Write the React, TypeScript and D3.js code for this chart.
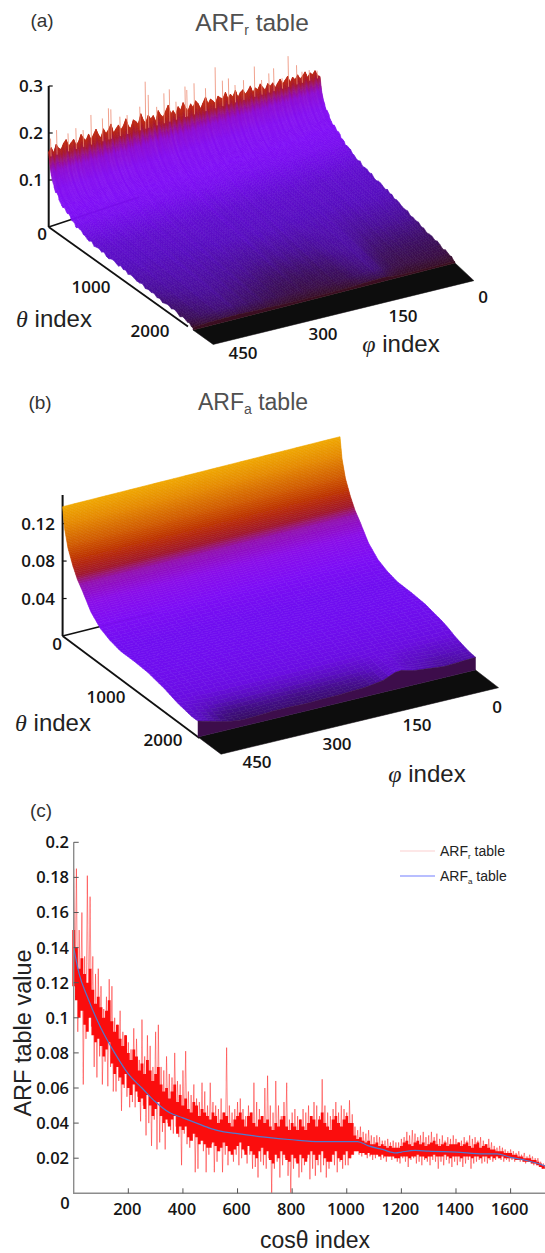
import React from "react";
import * as d3 from "d3";

// ---------- panel (c) data (values x 1000) ----------
const cXTicks = [200, 400, 600, 800, 1000, 1200, 1400, 1600];
const cYTicks = [0.02, 0.04, 0.06, 0.08, 0.1, 0.12, 0.14, 0.16, 0.18, 0.2];
const arfAIdx = [0, 20, 50, 100, 150, 200, 250, 300, 350, 400, 450, 500, 550, 600, 700, 800, 900, 1000, 1040, 1080, 1130, 1180, 1200, 1250, 1300, 1400, 1500, 1550, 1600, 1650, 1700, 1727];
const arfAVal = [140, 125, 112, 94, 80, 68, 60, 52, 46, 43, 40, 37, 35, 34, 32, 30.5, 29.5, 29.5, 29.5, 27, 25, 23, 23.5, 24.5, 24, 23.5, 22.5, 22.5, 20.5, 19, 17, 15.5];
const rHigh = [
  185, 185, 150, 160, 135, 181, 169, 135, 125, 128,
  118, 105, 112, 122, 118, 100, 96, 104, 92, 90,
  86, 82, 94, 88, 76, 99, 78, 90, 84, 72,
  92, 96, 72, 70, 78, 68, 66, 80, 64, 62,
  70, 81, 58, 56, 62, 54, 52, 63, 58, 50,
  63, 52, 50, 48, 54, 46, 83, 50, 46, 48,
  52, 54, 48, 44, 50, 46, 63, 52, 48, 44,
  60, 67, 50, 46, 64, 50, 44, 52, 63, 42,
  46, 48, 44, 42, 48, 46, 50, 44, 52, 50,
  44, 65, 50, 46, 44, 48, 52, 46, 50, 48,
  46, 53, 45, 38, 36, 38, 35, 34, 36, 33,
  32, 33, 32, 30, 30, 31, 29, 30, 29, 29,
  31, 32, 35, 33, 36, 34, 32, 33, 35, 32,
  33, 35, 32, 34, 31, 33, 30, 32, 31, 33,
  31, 29, 30, 32, 30, 33, 31, 32, 30, 32,
  30, 28, 31, 29, 27, 26, 27, 26, 25, 24,
  25, 24, 23, 24, 22, 23, 21, 22, 21, 20, 20, 18, 17,
];
const rLow = [
  120, 92, 105, 62, 88, 100, 95, 72, 66, 78,
  62, 75, 61, 72, 58, 58, 64, 47, 60, 55,
  49, 52, 49, 55, 41, 50, 33, 40, 27, 42,
  25, 29, 35, 25, 40, 36, 34, 38, 32, 16,
  34, 28, 26, 30, 12, 14, 32, 24, 12, 22,
  28, 12, 18, 24, 12, 22, 16, 24, 18, 22,
  16, 20, 24, 17, 22, 14, 15, 9, 18, 16,
  14, 20, 0, 14, 18, 9, 16, 20, 10, 0,
  14, 18, 9, 12, 16, 20, 8, 14, 10, 16,
  12, 16, 9, 14, 18, 16, 12, 18, 14, 16,
  16, 20, 22, 24, 22, 21, 23, 20, 21, 19,
  20, 22, 19, 20, 18, 21, 19, 20, 18, 17,
  20, 18, 15, 19, 20, 17, 18, 16, 19, 18,
  16, 19, 18, 14, 18, 16, 19, 17, 15, 18,
  16, 18, 15, 17, 19, 14, 17, 18, 19, 17,
  18, 17, 19, 18, 19, 20, 19, 18, 19, 18,
  19, 18, 19, 18, 18, 17, 18, 17, 16, 16, 15, 14, 14,
];
const coreHigh = [
  150, 140, 128, 134, 125, 120, 128, 116, 108, 112,
  106, 100, 104, 110, 98, 92, 96, 88, 84, 90,
  80, 76, 82, 78, 70, 74, 68, 76, 70, 64,
  68, 72, 62, 58, 60, 54, 58, 62, 52, 56,
  50, 54, 48, 46, 52, 50, 44, 48, 46, 44,
  42, 46, 44, 40, 42, 46, 44, 40, 38, 42,
  44, 46, 42, 38, 44, 46, 40, 38, 42, 44,
  40, 42, 38, 36, 40, 38, 42, 44, 38, 36,
  40, 38, 36, 42, 38, 36, 40, 44, 42, 38,
  42, 46, 40, 38, 36, 42, 44, 40, 38, 42,
  44, 40, 40, 33, 31, 32, 30, 29, 30, 28,
  28, 29, 27, 28, 27, 26, 27, 26, 26, 26,
  27, 29, 30, 28, 27, 29, 30, 28, 29, 27,
  28, 29, 30, 28, 27, 28, 29, 27, 28, 28,
  28, 29, 27, 28, 29, 27, 26, 28, 29, 26,
  27, 28, 26, 25, 25, 24, 24, 24, 23, 23,
  23, 22, 22, 21, 21, 20, 20, 20, 19, 19, 18, 17, 16,
];
const coreLow = [
  118, 110, 100, 104, 96, 92, 100, 90, 86, 88,
  84, 78, 82, 86, 74, 68, 72, 66, 62, 68,
  60, 56, 62, 58, 52, 54, 48, 56, 50, 44,
  48, 52, 44, 40, 42, 38, 42, 44, 34, 38,
  36, 38, 32, 30, 34, 32, 28, 30, 28, 26,
  26, 29, 27, 24, 26, 29, 27, 24, 22, 25,
  27, 29, 25, 22, 27, 24, 22, 20, 24, 26,
  22, 24, 19, 17, 22, 20, 24, 22, 19, 18,
  22, 20, 17, 22, 20, 18, 22, 24, 22, 19,
  22, 24, 20, 18, 18, 22, 24, 20, 19, 22,
  24, 20, 22, 24, 24, 23, 23, 22, 23, 22,
  22, 22, 21, 22, 21, 21, 21, 21, 20, 20,
  21, 21, 21, 20, 21, 21, 22, 21, 21, 20,
  21, 21, 22, 21, 21, 21, 22, 21, 20, 21,
  21, 21, 20, 21, 21, 21, 20, 21, 21, 20,
  21, 21, 20, 21, 20, 21, 20, 21, 20, 20,
  20, 20, 19, 19, 19, 18, 18, 18, 17, 17, 16, 15, 14,
];

// ---------- panel (a) data ----------
const aZTicks = [0.1, 0.2, 0.3];
const thetaTicks = [1000, 2000];
const phiTicks = [0, 150, 300, 450];
const aProfT = [0, 0.006, 0.012, 0.025, 0.05, 0.08, 0.13, 0.2, 0.28, 0.35, 0.45, 0.55, 0.65, 0.75, 0.85, 0.95, 1];
const aProfZ = [0.168, 0.15, 0.132, 0.11, 0.09, 0.075, 0.06, 0.044, 0.035, 0.03, 0.027, 0.024, 0.021, 0.018, 0.015, 0.012, 0.007];
const aEdge = [
  160, 168, 155, 172, 162, 158, 170, 176, 160, 166,
  172, 158, 164, 178, 168, 162, 174, 160, 170, 180,
  166, 158, 176, 164, 171, 182, 160, 168, 175, 163,
  170, 184, 166, 160, 177, 172, 164, 186, 170, 162,
  178, 168, 174, 158, 182, 170, 164, 176, 188, 166,
  172, 160, 178, 168, 184, 170, 162, 176, 166, 180,
  172, 158, 170, 182, 164, 174, 168, 160, 176, 170,
  166, 180, 162, 172, 164, 178, 158, 170, 174, 162,
  168, 178, 160, 170, 164, 176, 166, 158, 172, 164,
  170, 156, 166, 174, 160, 168, 176, 158, 170, 162,
  172, 160, 166, 174, 158, 168, 162, 170, 156, 152,
];
const aSpikePhi = [447, 437, 418, 405, 393, 380, 361, 351, 347, 332, 320, 299, 290, 285, 271, 259, 250, 239, 224, 221, 209, 190, 174, 162, 152, 141, 127, 109, 97, 85, 77, 63, 53, 39, 30, 18, 5];
const aSpikeZ = [0.187, 0.2015, 0.1875, 0.194, 0.1855, 0.2135, 0.199, 0.2175, 0.2137, 0.192, 0.191, 0.2018, 0.2546, 0.223, 0.1907, 0.2168, 0.2225, 0.19, 0.219, 0.21, 0.2208, 0.202, 0.2447, 0.2087, 0.21, 0.19, 0.196, 0.2213, 0.184, 0.195, 0.204, 0.174, 0.224, 0.196, 0.176, 0.175, 0.168];
const aFrontMod = [0.9, 1.05, 1.2, 1.25, 1.1, 1.0, 0.85, 0.75, 0.7, 0.7, 0.75, 0.85, 1.1, 1.3, 0.8, 0.7, 0.7, 0.7, 0.7];
const aSideJitter = [1, -2, 3, -1, -3, 2, 0, 3, -2, 1, -3, 2, 3, -1, 0, -2, 3, 1, -3, 0, 2, -1, 3, -2, -3, 1, 2, 0, -2, 3, -1, 2, -3, 1, 0, 3, -2, -1, 2, -3, 3, 0, -1, 2, -2, 1, 3, -3, 0, 2, -1, -2, 3, 1, -3, 2, 0, -1, 2, -2];
const aColorZ = [0, 0.006, 0.012, 0.018, 0.025, 0.035, 0.045, 0.06, 0.09, 0.12, 0.135, 0.15, 0.165, 0.2];
const aColors = ["#3a1018", "#381030", "#3c1060", "#4a0f98", "#5810c0", "#6a10dc", "#7810ee", "#8010f6", "#8510f0", "#8f10d0", "#9a1488", "#a81c30", "#bc2a14", "#cc3820"];

// ---------- panel (b) data ----------
const bZTicks = [0.04, 0.08, 0.12];
const bProfT = [0, 0.015, 0.04, 0.076, 0.11, 0.15, 0.21, 0.28, 0.35, 0.43, 0.53, 0.63, 0.75, 0.85, 0.95, 1];
const bProfZ = [0.138, 0.116, 0.098, 0.083, 0.072, 0.063, 0.048, 0.038, 0.033, 0.03, 0.03, 0.029, 0.025, 0.02, 0.017, 0.017];
const bFrontMod = [1.0, 0.75, 0.5, 0.4, 0.45, 0.5, 0.5, 0.45, 0.5, 0.5, 0.55, 0.6, 0.75, 1.15, 0.9, 0.8, 0.7, 0.75, 0.8];
const bColorZ = [0, 0.005, 0.01, 0.015, 0.02, 0.03, 0.04, 0.055, 0.068, 0.075, 0.085, 0.1, 0.12, 0.138];
const bColors = ["#280a40", "#300a50", "#400c80", "#5a0cc0", "#6a10e0", "#7010f0", "#7e10f5", "#8a10e8", "#9212b0", "#a01830", "#b82a08", "#d05a05", "#e58a00", "#f0a800"];

const FONT = "'Liberation Sans', Arial, sans-serif";
const TICKFONT = "'Open Sans', 'Liberation Sans', sans-serif";

type SurfaceCfg = {
  BL: number[]; BR: number[]; FL: number[]; FR: number[];
  zpx: [number, number];
  profT: number[]; profZ: number[];
  colorZ: number[]; colors: string[];
  frontMod: number[]; weightFrom: number;
  edge?: number[]; jitter?: number[]; cols: number; wallFill: string;
  floorT: [number, number];
};

const line = d3.line();

function makeProjector(c: SurfaceCfg) {
  const backX = d3.scaleLinear().domain([450, 0]).range([c.BL[0], c.BR[0]]);
  const backY = d3.scaleLinear().domain([450, 0]).range([c.BL[1], c.BR[1]]);
  const frontX = d3.scaleLinear().domain([450, 0]).range([c.FL[0], c.FR[0]]);
  const frontY = d3.scaleLinear().domain([450, 0]).range([c.FL[1], c.FR[1]]);
  const zp = d3.scaleLinear().domain([450, 0]).range(c.zpx);
  return (t: number, phi: number, z: number): [number, number] => {
    const bx = backX(phi), by = backY(phi);
    return [bx + (frontX(phi) - bx) * t, by + (frontY(phi) - by) * t - zp(phi) * z];
  };
}

function Surface({ c }: { c: SurfaceCfg }) {
  const project = makeProjector(c);
  const prof = d3.scaleLinear().domain(c.profT).range(c.profZ);
  const color = d3.scaleLinear<string>().domain(c.colorZ).range(c.colors).clamp(true);
  const modPhi = d3.scaleLinear().domain(d3.range(c.frontMod.length).map((i) => 450 - i * 25)).range(c.frontMod);
  const weight = d3.scaleLinear().domain([c.weightFrom, 1]).range([0, 1]).clamp(true);
  const rows: number[] = [];
  c.profT.slice(0, -1).forEach((t0, i) => {
    const t1 = c.profT[i + 1];
    const n = Math.max(1, Math.ceil(Math.abs(c.profZ[i + 1] - c.profZ[i]) / 0.0015), Math.ceil((t1 - t0) / 0.02));
    d3.range(n).forEach((k) => rows.push(t0 + ((t1 - t0) * k) / n));
  });
  rows.push(1);
  const cols = c.edge ? c.edge.length : c.cols;
  const phis = d3.range(cols).map((j) => 450 - (450 * j) / (cols - 1));
  const mean = c.edge ? d3.mean(c.edge)! : 1;
  const jit = c.jitter ? d3.scaleQuantize<number>().domain([0.02, 1]).range(c.jitter) : null;
  const zAt = (t: number, j: number) => {
    const grain = c.edge ? c.edge[j] / mean : 1;
    const side = jit && (j < 1 || j >= cols - 1) && t > 0.02 ? jit(t) / 1000 : 0;
    return Math.max(0, prof(t) * grain * (1 + weight(t) * (modPhi(phis[j]) - 1)) + side);
  };
  const quads: React.ReactElement[] = [];
  for (let r = 0; r < rows.length - 1; r++) {
    for (let j = 0; j < cols - 1; j++) {
      const t0 = rows[r], t1 = rows[r + 1];
      const z00 = zAt(t0, j), z01 = zAt(t0, j + 1), z10 = zAt(t1, j), z11 = zAt(t1, j + 1);
      const fill = color((z00 + z01 + z10 + z11) / 4);
      const d = line([
        project(t0, phis[j], z00), project(t0, phis[j + 1], z01),
        project(t1, phis[j + 1], z11), project(t1, phis[j], z10),
      ]) + "Z";
      quads.push(<path key={r * 1000 + j} d={d} fill={fill} stroke={fill} strokeWidth={0.6} />);
    }
  }
  const floor = line([
    project(c.floorT[0], 450, 0), project(c.floorT[0], 0, 0),
    project(c.floorT[1], 0, 0), project(c.floorT[1], 450, 0),
  ]) + "Z";
  const wall = line([
    ...phis.map((p, j) => project(1, p, zAt(1, j))),
    project(1, 0, 0), project(1, 450, 0),
  ]) + "Z";
  return (
    <g>
      <path d={floor} fill="#0c0a0c" stroke="#0c0a0c" strokeWidth={0.5} />
      {quads}
      <path d={wall} fill={c.wallFill} stroke={c.wallFill} strokeWidth={0.5} />
    </g>
  );
}

const cfgA: SurfaceCfg = {
  BL: [48.7, 227], BR: [320, 137], FL: [193, 330], FR: [455, 263],
  zpx: [470, 400], profT: aProfT, profZ: aProfZ, colorZ: aColorZ, colors: aColors,
  frontMod: aFrontMod, weightFrom: 0.55, edge: aEdge, jitter: aSideJitter, cols: 110, wallFill: "#3a1020",
  floorT: [1, 1.14],
};
const cfgB: SurfaceCfg = {
  BL: [62.6, 636], BR: [340, 566], FL: [198, 737], FR: [475.5, 670],
  zpx: [937, 937], profT: bProfT, profZ: bProfZ, colorZ: bColorZ, colors: bColors,
  frontMod: bFrontMod, weightFrom: 0.8, cols: 46, wallFill: "#3c0c4c",
  floorT: [1, 1.17],
};

function Lab(p: { x: number; y: number; children: React.ReactNode; size?: number; anchor?: string; weight?: number; fill?: string; font?: string }) {
  return (
    <text x={p.x} y={p.y} dy="0.36em" textAnchor={p.anchor ?? "middle"} fontFamily={p.font ?? TICKFONT}
      fontSize={p.size ?? 15} fontWeight={p.weight ?? 600} fill={p.fill ?? "#151515"}>{p.children}</text>
  );
}

function Title(p: { x: number; y: number; sub: string; size: number }) {
  return (
    <text x={p.x} y={p.y} textAnchor="middle" fontFamily={FONT} fontSize={p.size} fill="#505050">
      ARF<tspan dy={4} fontSize={14}>{p.sub}</tspan><tspan dy={-4}> table</tspan>
    </text>
  );
}

function AxisIndex(p: { word: string; x: number; y: number; size: number }) {
  return (
    <text x={p.x} y={p.y} dy="0.36em" textAnchor="middle" fontFamily={FONT} fontSize={p.size} fill="#222">
      <tspan fontStyle="italic" fontFamily="'Liberation Serif', serif">{p.word}</tspan> index
    </text>
  );
}

function Panel3D(p: {
  c: SurfaceCfg; zTop: number; zMax: number; zTicks: number[]; zLabelX: number; zero: number[];
  tickLabel: (v: number) => string; theta: number[][]; phi: number[][]; axisEnd: number;
  thetaName: number[]; phiName: number[]; size: number; spikes?: boolean;
}) {
  const { c } = p;
  const project = makeProjector(c);
  const zScale = d3.scaleLinear().domain([0, p.zMax]).range([c.BL[1], p.zTop]);
  const thX = d3.scaleLinear().domain([1000, 2000]).range([p.theta[0][0], p.theta[1][0]]);
  const thY = d3.scaleLinear().domain([1000, 2000]).range([p.theta[0][1], p.theta[1][1]]);
  const phX = d3.scaleLinear().domain([0, 450]).range([p.phi[0][0], p.phi[1][0]]);
  const phY = d3.scaleLinear().domain([0, 450]).range([p.phi[0][1], p.phi[1][1]]);
  return (
    <g>
      <g stroke="#111" strokeWidth={2} fill="none">
        <path d={line([[c.BL[0], c.BL[1]], [c.BL[0], zScale(p.zMax)]])!} />
        <path d={line([project(0, 450, 0), project(0, 300, 0)])!} strokeWidth={1.6} />
        <path d={line([project(0, 450, 0), project(p.axisEnd, 450, 0)])!} strokeWidth={1.8} />
        {p.zTicks.map((v) => (
          <path key={v} d={line([[c.BL[0], zScale(v)], [c.BL[0] + 4, zScale(v)]])!} strokeWidth={1.2} />
        ))}
      </g>
      <g filter="url(#soft)">
        <Surface c={c} />
      </g>
      {p.spikes && (
        <g filter="url(#soft2)">
          {aSpikePhi.map((ph, i) => (
            <path key={ph} d={line([project(0.004, ph, 0.15), project(0, ph, aSpikeZ[i])])!}
              stroke="#ec8a70" strokeWidth={1} opacity={0.8} fill="none" />
          ))}
        </g>
      )}
      {p.zTicks.map((v) => (
        <Lab key={v} x={p.zLabelX} y={zScale(v)} anchor="end" size={p.size}>{p.tickLabel(v)}</Lab>
      ))}
      <Lab x={p.zero[0]} y={p.zero[1]} size={p.size}>0</Lab>
      {thetaTicks.map((v) => <Lab key={v} x={thX(v)} y={thY(v)} size={p.size}>{v}</Lab>)}
      {phiTicks.map((v) => <Lab key={v} x={phX(v)} y={phY(v)} size={p.size}>{v}</Lab>)}
      <AxisIndex word="θ" x={p.thetaName[0]} y={p.thetaName[1]} size={24} />
      <AxisIndex word="φ" x={p.phiName[0]} y={p.phiName[1]} size={24} />
    </g>
  );
}

function PanelC() {
  const x = d3.scaleLinear().domain([0, 1600]).range([73.7, 510.6]);
  const y = d3.scaleLinear().domain([0, 0.2]).range([1193.3, 842.3]);
  const zig: [number, number][] = [];
  rHigh.forEach((h, i) => {
    zig.push([x(i * 10), y(h / 1000)]);
    zig.push([x(i * 10 + 5), y(rLow[i] / 1000)]);
  });
  const bars = coreHigh
    .map((h, i) => `M${x(i * 10)},${y(h / 1000)}V${y(coreLow[i] / 1000)}`)
    .join("");
  const aLine = d3.line<number>()
    .x((_, i) => x(arfAIdx[i]))
    .y((d) => y(d / 1000))
    .curve(d3.curveMonotoneX);
  return (
    <g>
      <g filter="url(#soft2)">
        <path d={line(zig)!} fill="none" stroke="#ff2020" strokeWidth={1} opacity={0.5} />
        <path d={bars} fill="none" stroke="#fb0d0d" strokeWidth={2.8} />
        <path d={aLine(arfAVal)!} fill="none" stroke="#4f7ad0" strokeWidth={1.2} />
      </g>
      <g stroke="#8c8c8c" strokeWidth={1.4} fill="none">
        <path d={`M${x(0)},${y(0.2)}V${y(0)}H545`} />
        {cYTicks.map((v) => <path key={v} d={`M${x(0)},${y(v)}h5`} strokeWidth={1} stroke="#555" />)}
        {cXTicks.map((v) => <path key={v} d={`M${x(v)},${y(0)}v-5`} strokeWidth={1} stroke="#555" />)}
      </g>
      {cYTicks.map((v) => (
        <Lab key={v} x={69} y={y(v)} anchor="end" size={16.5}>{d3.format("~g")(v)}</Lab>
      ))}
      <Lab x={65} y={1203} size={16.5}>0</Lab>
      {cXTicks.map((v) => <Lab key={v} x={x(v) - 1} y={1209} size={16.5}>{v}</Lab>)}
      <text transform={`translate(31,1033) rotate(-90)`} textAnchor="middle" fontFamily={FONT} fontSize={23.5} fill="#222">ARF table value</text>
      <text x={315} y={1247.5} textAnchor="middle" fontFamily={FONT} fontSize={23} fill="#222">cosθ index</text>
      <path d="M400,851H435" stroke="#fbd0d0" strokeWidth={1.2} />
      <path d="M400,876H435" stroke="#a0a8ff" strokeWidth={1.6} />
      <text x={440} y={856} fontFamily={FONT} fontSize={14} fill="#222">ARF<tspan dy={3} fontSize={8}>r</tspan><tspan dy={-3}> table</tspan></text>
      <text x={440} y={881} fontFamily={FONT} fontSize={14} fill="#222">ARF<tspan dy={3} fontSize={8}>a</tspan><tspan dy={-3}> table</tspan></text>
    </g>
  );
}

export default function App() {
  return (
    <svg width={545} height={1253} viewBox="0 0 545 1253"
      style={{ position: "absolute", left: 0, top: 0, background: "#fff", display: "block" }}>
      <defs>
        <filter id="soft" filterUnits="userSpaceOnUse" x={0} y={0} width={545} height={1253}>
          <feGaussianBlur stdDeviation={0.55} />
        </filter>
        <filter id="soft2" filterUnits="userSpaceOnUse" x={0} y={0} width={545} height={1253}>
          <feGaussianBlur stdDeviation={0.4} />
        </filter>
      </defs>
      <Lab x={42} y={20} size={19} weight={400} font={FONT} fill="#333">(a)</Lab>
      <Title x={252} y={31} sub="r" size={24.5} />
      <Panel3D c={cfgA} zTop={86} zMax={0.3} zTicks={aZTicks} zLabelX={43} zero={[42, 234]}
        tickLabel={(v) => d3.format(".1f")(v)} theta={[[91, 287], [150, 331]]} phi={[[483, 297], [243, 353]]}
        axisEnd={0.965} thetaName={[54, 318]} phiName={[401, 343]} size={17} spikes />
      <Lab x={40} y={402} size={19} weight={400} font={FONT} fill="#333">(b)</Lab>
      <Title x={253} y={410} sub="a" size={23} />
      <Panel3D c={cfgB} zTop={495} zMax={0.1505} zTicks={bZTicks} zLabelX={55} zero={[57, 644]}
        tickLabel={(v) => d3.format(".2f")(v)} theta={[[106, 697], [163, 740]]} phi={[[497, 707], [257, 762]]}
        axisEnd={1.01} thetaName={[53, 722]} phiName={[427, 773]} size={17} />
      <Lab x={41} y={810} size={19} weight={400} font={FONT} fill="#333">(c)</Lab>
      <PanelC />
    </svg>
  );
}
